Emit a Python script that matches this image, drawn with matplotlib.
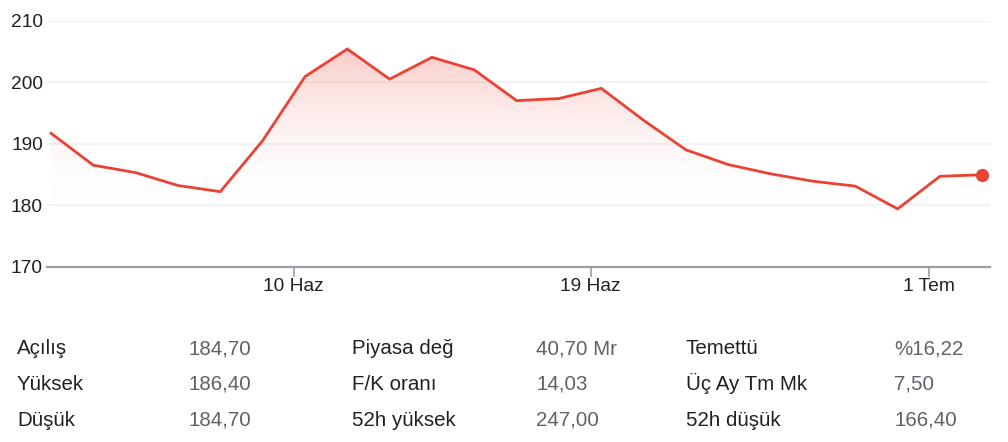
import numpy as np
import matplotlib
matplotlib.use("Agg")
import matplotlib.pyplot as plt
from matplotlib.colors import LinearSegmentedColormap

plt.rcParams['font.family'] = ['Liberation Sans', 'DejaVu Sans']

# ---- data ----
prices = [191.7, 186.5, 185.3, 183.2, 182.2, 190.5, 200.9, 205.4, 200.5, 204.05,
          202.0, 197.0, 197.35, 199.0, 193.8, 189.0, 186.6, 185.1, 183.9, 183.1,
          179.4, 184.7, 184.95]
tick_pos = [5.73, 12.75, 20.75]
tick_labels = ["10 Haz", "19 Haz", "1 Tem"]
y_ticks = [170, 180, 190, 200, 210]

table_labels_1 = ["Açılış", "Yüksek", "Düşük"]
table_values_1 = ["184,70", "186,40", "184,70"]
table_labels_2 = ["Piyasa değ", "F/K oranı", "52h yüksek"]
table_values_2 = ["40,70 Mr", "14,03", "247,00"]
table_labels_3 = ["Temettü", "Üç Ay Tm Mk", "52h düşük"]
table_values_3 = ["%16,22", "7,50", "166,40"]

RED = "#ea4335"
W, H = 1008, 442
fig = plt.figure(figsize=(W / 100, H / 100), dpi=100)

left_px, right_px, top_px, bot_px = 47, 990, 20.7, 266.7
ax = fig.add_axes([left_px / W, 1 - bot_px / H, (right_px - left_px) / W, (bot_px - top_px) / H])

x = np.arange(len(prices))
y = np.array(prices)
spacing = (982.3 - 51) / (len(prices) - 1)
ax.set_xlim((left_px - 51) / spacing, (right_px - 51) / spacing)
ax.set_ylim(170, 210)

# gradient fill
ymax = y.max()
ybot = 179.0
cmap = LinearSegmentedColormap.from_list("g", [(1, 1, 1, 0), (234/255, 67/255, 53/255, 0.28)])
grad = np.linspace(0, 1, 256).reshape(-1, 1)
im = ax.imshow(grad, aspect='auto', cmap=cmap, origin='lower',
               extent=[x[0], x[-1], ybot, ymax], zorder=1)
poly = ax.fill_between(x, y, ybot, color='none', lw=0)
path = poly.get_paths()[0]
im.set_clip_path(path, transform=ax.transData)

ax.plot(x, y, color=RED, lw=2.0, zorder=3, solid_joinstyle='miter')
ax.plot(x[-1], y[-1], 'o', color=RED, ms=8.5, zorder=4)

# grid
for v in y_ticks[1:]:
    ax.axhline(v, color="#f0f0f0", lw=1.2, zorder=0)

for s in ['top', 'right', 'left']:
    ax.spines[s].set_visible(False)
ax.spines['bottom'].set_color("#9aa0a6")
ax.spines['bottom'].set_linewidth(1.6)

ax.set_yticks(y_ticks)
ax.set_yticklabels([str(v) for v in y_ticks], fontsize=13.8, color="#202124")
ax.tick_params(axis='y', length=0, pad=3)
ax.set_xticks(tick_pos)
ax.set_xticklabels(tick_labels, fontsize=13.8, color="#202124")
ax.tick_params(axis='x', length=7.2, width=1.2, color="#9aa0a6", pad=1)

# table
baselines = [354.3, 390.0, 426.0]
cols = [(17, table_labels_1, "#202124"), (189, table_values_1, "#5f6368"),
        (352, table_labels_2, "#202124"), (536, table_values_2, "#5f6368"),
        (686, table_labels_3, "#202124"), (894, table_values_3, "#5f6368")]
for cx, texts, col in cols:
    for by, t in zip(baselines, texts):
        fig.text(cx / W, 1 - by / H, t, fontsize=14.8, color=col, ha='left', va='baseline')

fig.savefig("out.png", dpi=100)
